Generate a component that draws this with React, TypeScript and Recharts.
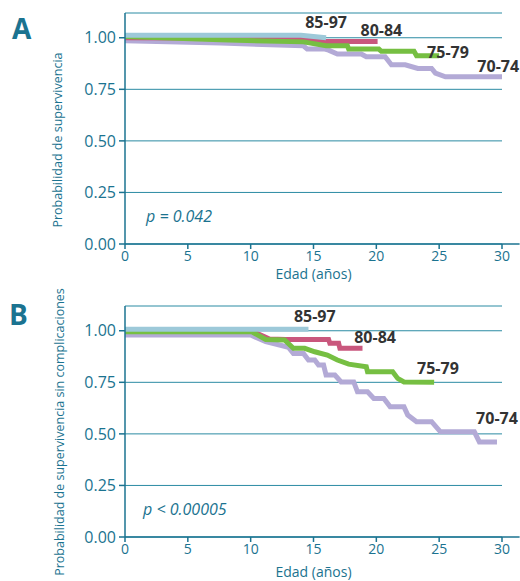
import React from 'react';
import {
  LineChart,
  Line,
  XAxis,
  YAxis,
  CartesianGrid,
  ReferenceDot,
  ReferenceLine,
} from 'recharts';

// ages on the x axis and the survival ticks
const AGES = [0, 5, 10, 15, 20, 25, 30];
const PROB_TICKS = [0, 0.25, 0.5, 0.75, 1];

// panel A: survival, [age, probability]
const A_85_97 = [[0, 1.012], [14, 1.012], [16, 1.0]];
const A_80_84 = [[0, 1.0], [14, 0.997], [15.5, 0.982], [20.1, 0.982]];
const A_75_79 = [
  [0, 1.006], [7.6, 0.99], [14.2, 0.98], [16, 0.961], [17.7, 0.961], [17.8, 0.945],
  [20.2, 0.945], [20.4, 0.934], [23, 0.934], [23.2, 0.913], [25, 0.913],
];
const A_70_74 = [
  [0, 0.985], [7.6, 0.974], [14.2, 0.961], [14.5, 0.945], [15.9, 0.945], [16.2, 0.94],
  [16.9, 0.921], [18.8, 0.921], [19.2, 0.908], [20.7, 0.908], [21.2, 0.869], [22.3, 0.869],
  [23.3, 0.851], [24.4, 0.851], [24.7, 0.829], [25.5, 0.811], [30, 0.811],
];

// panel B: complication-free survival
const B_85_97 = [[0, 1.007], [14.6, 1.007]];
const B_80_84 = [
  [0, 0.998], [10.1, 0.998], [11.5, 0.96], [12.8, 0.958], [16.2, 0.958], [16.3, 0.939],
  [17, 0.939], [17.1, 0.915], [18.9, 0.915],
];
const B_75_79 = [
  [0, 0.995], [10.1, 0.995], [11.2, 0.958], [12.7, 0.955], [13.4, 0.915], [14.3, 0.915],
  [15.1, 0.898], [16.1, 0.882], [16.9, 0.858], [17.8, 0.838], [19.2, 0.825], [19.3, 0.801],
  [21.3, 0.801], [21.7, 0.769], [22.2, 0.752], [24.6, 0.75],
];
const B_70_74 = [
  [0, 0.979], [10, 0.979], [11.2, 0.947], [12.3, 0.931], [13, 0.92], [13.4, 0.89],
  [14.2, 0.89], [14.6, 0.858], [15.1, 0.858], [15.4, 0.834], [15.8, 0.834], [16, 0.785],
  [16.7, 0.785], [17.2, 0.752], [18.2, 0.752], [18.5, 0.704], [19.3, 0.704], [19.8, 0.672],
  [20.6, 0.672], [21.1, 0.631], [22.2, 0.631], [22.5, 0.591], [23.2, 0.559], [24.4, 0.559],
  [25.1, 0.51], [27.8, 0.51], [28.2, 0.461], [29.6, 0.461],
];

const GROUPS = ['70-74', '80-84', '75-79', '85-97'];
const COLORS: Record<string, string> = {
  '85-97': '#9dc9d9',
  '80-84': '#c9577d',
  '75-79': '#76bf42',
  '70-74': '#b3aad6',
};

const TEAL = '#1b7390';
const GRID = '#2b8ba3';
const FONT = '"Open Sans", sans-serif';

const toPts = (arr: number[][]) => arr.map(([t, s]) => ({ t, s }));

type Panel = {
  top: number;
  height: number;
  xAxisHeight: number;
  labelOffset: number;
  series: Record<string, number[][]>;
  tags: { group: string; t: number; s: number }[];
};

function SurvivalPanel({ top, height, xAxisHeight, labelOffset, series, tags }: Panel) {
  return (
    <div style={{ position: 'absolute', left: 0, top }}>
      <LineChart width={520} height={height} margin={{ top: 13, right: 18, left: 0, bottom: 0 }}>
        <CartesianGrid horizontal vertical={false} stroke={GRID} strokeWidth={1} />
        <XAxis
          type="number"
          dataKey="t"
          domain={[0, 30]}
          ticks={AGES}
          allowDataOverflow
          height={xAxisHeight}
          stroke={TEAL}
          strokeWidth={1.5}
          tickSize={5}
          tickMargin={2}
          tick={{ fill: TEAL, fontSize: 14, fontFamily: FONT }}
          label={{
            value: 'Edad (años)',
            position: 'insideBottom',
            offset: labelOffset,
            fill: TEAL,
            fontSize: 14,
            fontFamily: FONT,
          }}
        />
        <YAxis
          type="number"
          domain={[0, 1.12]}
          ticks={PROB_TICKS}
          allowDataOverflow
          width={125}
          stroke={TEAL}
          strokeWidth={1.5}
          tickSize={6}
          tickMargin={3}
          tickFormatter={(v: number) => v.toFixed(2)}
          tick={{ fill: TEAL, fontSize: 16, fontFamily: FONT }}
        />
        <ReferenceLine
          segment={[{ x: 30, y: 0 }, { x: 31.4, y: 0 }]}
          stroke={TEAL}
          strokeWidth={1.5}
          ifOverflow="visible"
        />
        {GROUPS.map((g) => (
          <Line
            key={g}
            data={toPts(series[g])}
            dataKey="s"
            type="linear"
            stroke={COLORS[g]}
            strokeWidth={5}
            strokeLinejoin="miter"
            dot={false}
            activeDot={false}
            isAnimationActive={false}
          />
        ))}
        {tags.map((tg) => (
          <ReferenceDot
            key={tg.group}
            x={tg.t}
            y={tg.s}
            r={0}
            fill="none"
            stroke="none"
            ifOverflow="visible"
            label={{
              value: tg.group,
              position: 'center',
              fill: '#333333',
              fontSize: 16,
              fontWeight: 700,
              fontFamily: FONT,
            }}
          />
        ))}
      </LineChart>
    </div>
  );
}

const overlay = (extra: React.CSSProperties): React.CSSProperties => ({
  position: 'absolute',
  color: TEAL,
  fontFamily: FONT,
  whiteSpace: 'nowrap',
  lineHeight: 1,
  ...extra,
});

export default function App() {
  return (
    <div style={{ position: 'fixed', left: 0, top: 0, width: 520, height: 581, background: '#fff', overflow: 'hidden' }}>
      <SurvivalPanel
        top={0}
        height={290}
        xAxisHeight={46}
        labelOffset={11}
        series={{ '85-97': A_85_97, '80-84': A_80_84, '75-79': A_75_79, '70-74': A_70_74 }}
        tags={[
          { group: '85-97', t: 16, s: 1.074 },
          { group: '80-84', t: 20.4, s: 1.035 },
          { group: '75-79', t: 25.7, s: 0.929 },
          { group: '70-74', t: 29.7, s: 0.861 },
        ]}
      />
      <SurvivalPanel
        top={293}
        height={288}
        xAxisHeight={44}
        labelOffset={4}
        series={{ '85-97': B_85_97, '80-84': B_80_84, '75-79': B_75_79, '70-74': B_70_74 }}
        tags={[
          { group: '85-97', t: 15.1, s: 1.069 },
          { group: '80-84', t: 19.9, s: 0.967 },
          { group: '75-79', t: 24.9, s: 0.82 },
          { group: '70-74', t: 29.6, s: 0.573 },
        ]}
      />

      <div style={overlay({ left: 12, top: 14, fontSize: 28, fontWeight: 700 })}>A</div>
      <div style={overlay({ left: 9, top: 300, fontSize: 28, fontWeight: 700 })}>B</div>

      <div style={overlay({ left: 58, top: 140, fontSize: 12.5, transform: 'translate(-50%, -50%) rotate(-90deg)' })}>
        Probabilidad de supervivencia
      </div>
      <div style={overlay({ left: 60, top: 432, fontSize: 12.5, transform: 'translate(-50%, -50%) rotate(-90deg)' })}>
        Probabilidad de supervivencia sin complicaciones
      </div>

      <div style={overlay({ left: 146, top: 208, fontSize: 16, fontStyle: 'italic' })}>p = 0.042</div>
      <div style={overlay({ left: 143, top: 501, fontSize: 16, fontStyle: 'italic' })}>p &lt; 0.00005</div>
    </div>
  );
}
